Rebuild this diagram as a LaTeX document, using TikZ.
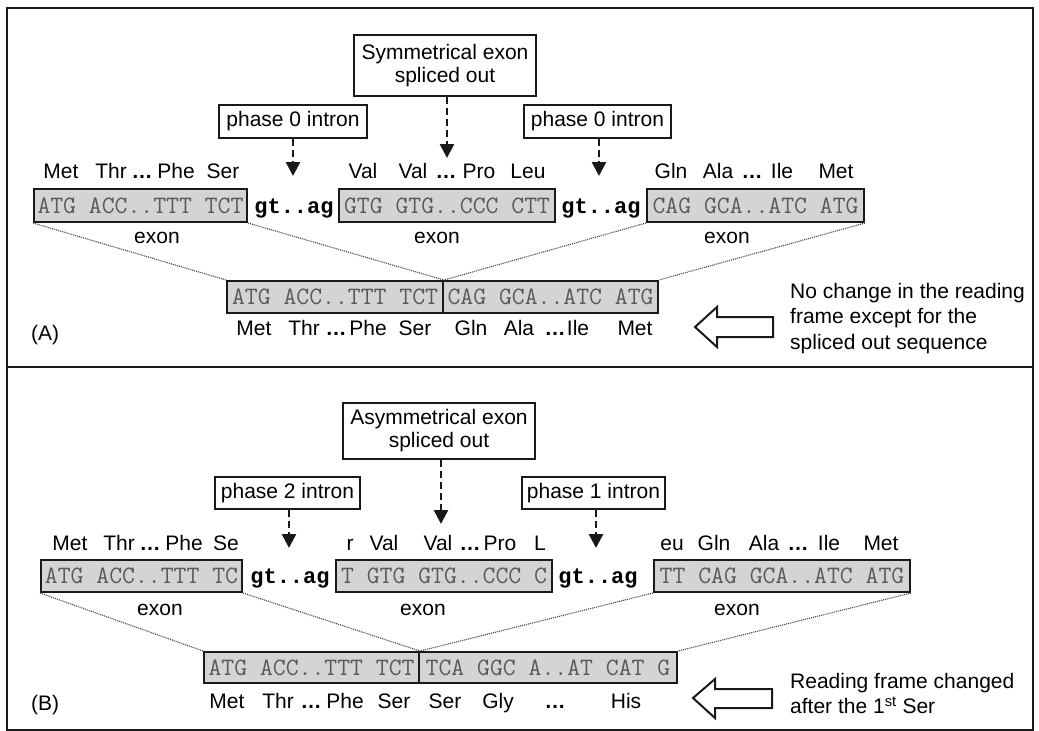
\documentclass[tikz,border=0pt]{standalone}
\usepackage{fontspec}
\setmainfont{Liberation Sans}
\newfontfamily\gtmono{Liberation Mono}
\usetikzlibrary{arrows.meta}
\begin{document}
\begin{tikzpicture}[x=1pt,y=-1pt,
  lbl/.style={font=\fontsize{21}{25}\selectfont, inner sep=0pt, anchor=base},
  seqbox/.style={draw=black!90, line width=2pt, fill=black!17, font=\fontsize{25}{28}\selectfont\ttfamily, text=black!65, inner sep=0pt, minimum height=33pt},
  gtag/.style={font=\fontsize{22}{26}\selectfont\gtmono\bfseries, inner sep=0pt, anchor=base},
  callout/.style={draw=black!90, line width=2pt, font=\fontsize{21}{25}\selectfont, inner sep=0pt, align=center},
  dasharrow/.style={draw=black!90, line width=2.6pt, dash pattern=on 7pt off 4pt, -{Triangle[length=14pt,width=14pt]}},
  dotline/.style={draw=black!75, line width=1.1pt, dash pattern=on 1pt off 1pt},
  hollow/.style={draw=black!90, line width=2pt, fill=white, line join=miter},
  note/.style={font=\fontsize{21}{25.5}\selectfont, inner sep=0pt, anchor=north west, align=left}
]
\useasboundingbox (0,0) rectangle (1039,731);
% frame
\draw[line width=2.2pt, black!90] (7,8) rectangle (1033,730);
\draw[line width=2.2pt, black!90] (7,367) -- (1033,367);

% ================= Panel A =================
\node[callout, minimum width=182pt, minimum height=61pt] (symA) at (445,65.5) {Symmetrical exon\\[-2pt]spliced out};
\node[callout, minimum width=148pt, minimum height=33pt] (p0L) at (293,121.5) {phase 0 intron};
\node[callout, minimum width=147pt, minimum height=33pt] (p0R) at (597.5,121.5) {phase 0 intron};
\coordinate (tA1) at (293,176);
\coordinate (tA2) at (447,158);
\coordinate (tA3) at (599,176);
\draw[dasharrow] (p0L.south) -- (tA1);
\draw[dasharrow] (symA.south -| tA2) -- (tA2);
\draw[dasharrow] (p0R.south -| tA3) -- (tA3);

\node[seqbox, minimum width=213pt] (eA1) at (140.5,205.5) {ATG ACC..TTT TCT};
\node[seqbox, minimum width=216pt] (eA2) at (447,205.5) {GTG GTG..CCC CTT};
\node[seqbox, minimum width=217pt] (eA3) at (755.5,205.5) {CAG GCA..ATC ATG};
\node[gtag] (gA1) at (294,213) {gt..ag};
\node[gtag] (gA2) at (601,213) {gt..ag};
\node[lbl] (xA1) at (157,243) {exon};
\node[lbl] (xA2) at (437,243) {exon};
\node[lbl] (xA3) at (727,243) {exon};

\node[seqbox, minimum width=216pt, minimum height=32pt] (cA1) at (335,297) {ATG ACC..TTT TCT};
\node[seqbox, minimum width=215pt, minimum height=32pt] (cA2) at (550.5,297) {CAG GCA..ATC ATG};

\draw[dotline] (eA1.south west) -- (cA1.north west);
\draw[dotline] (eA1.south east) -- (cA1.north east);
\draw[dotline] (eA3.south west) -- (cA1.north east);
\draw[dotline] (eA3.south east) -- (cA2.north east);

\foreach \w/\x [count=\i] in {Met/61, Thr/111, {\bfseries …}/142, Phe/176, Ser/223,
  Val/363, Val/413, {\bfseries …}/446, Pro/479, Leu/528,
  Gln/671, Ala/718, {\bfseries …}/752, Ile/782, Met/836}
  \node[lbl] (aat\i) at (\x,178) {\w};
\foreach \w/\x [count=\i] in {Met/254, Thr/304, {\bfseries …}/336, Phe/368, Ser/415,
  Gln/471, Ala/519, {\bfseries …}/555, Ile/578, Met/635}
  \node[lbl] (aab\i) at (\x,335) {\w};

\node[lbl, anchor=base west] (labA) at (31,340) {(A)};
\draw[hollow] (695,327) -- (717,307) -- (717,317) -- (773,317) -- (773,337) -- (717,337) -- (717,347) -- cycle;
\node[note] (noteA) at (790,283) {No change in the reading\\frame except for the\\spliced out sequence};

% ================= Panel B =================
\node[callout, minimum width=192pt, minimum height=56pt] (asyB) at (439,431) {Asymmetrical exon\\[-2pt]spliced out};
\node[callout, minimum width=145pt, minimum height=32pt] (p2) at (287.5,493) {phase 2 intron};
\node[callout, minimum width=143pt, minimum height=32pt] (p1) at (593.5,493) {phase 1 intron};
\coordinate (tB1) at (289,548);
\coordinate (tB2) at (441,524);
\coordinate (tB3) at (596,548);
\draw[dasharrow] (p2.south -| tB1) -- (tB1);
\draw[dasharrow] (asyB.south -| tB2) -- (tB2);
\draw[dasharrow] (p1.south -| tB3) -- (tB3);

\node[seqbox, minimum width=201pt, minimum height=32pt] (eB1) at (141.5,576) {ATG ACC..TTT TC};
\node[seqbox, minimum width=216pt, minimum height=32pt] (eB2) at (444,576) {T GTG GTG..CCC C};
\node[seqbox, minimum width=256pt, minimum height=32pt] (eB3) at (782,576) {TT CAG GCA..ATC ATG};
\node[gtag] (gB1) at (290,583) {gt..ag};
\node[gtag] (gB2) at (598,583) {gt..ag};
\node[lbl] (xB1) at (160,615) {exon};
\node[lbl] (xB2) at (423,615) {exon};
\node[lbl] (xB3) at (737,615) {exon};

\node[seqbox, minimum width=215pt, minimum height=31pt] (cB1) at (311.5,667.5) {ATG ACC..TTT TCT};
\node[seqbox, minimum width=258pt, minimum height=31pt] (cB2) at (548,667.5) {TCA GGC A..AT CAT G};

\draw[dotline] (eB1.south west) -- (cB1.north west);
\draw[dotline] (eB1.south east) -- (cB1.north east);
\draw[dotline] (eB3.south west) -- (cB1.north east);
\draw[dotline] (eB3.south east) -- (cB2.north east);

\foreach \w/\x [count=\i] in {Met/70, Thr/119, {\bfseries …}/150, Phe/184, Se/226,
  r/350, Val/384, Val/438, {\bfseries …}/470, Pro/500, L/540,
  eu/672, Gln/714, Ala/764, {\bfseries …}/798, Ile/829, Met/881}
  \node[lbl] (bbt\i) at (\x,550) {\w};
\foreach \w/\x [count=\i] in {Met/227, Thr/278, {\bfseries …}/311, Phe/345, Ser/394,
  Ser/445, Gly/498, {\bfseries …}/555, His/626}
  \node[lbl] (bbb\i) at (\x,708) {\w};

\node[lbl, anchor=base west] (labB) at (31,710) {(B)};
\draw[hollow] (693,698) -- (715,679) -- (715,689) -- (772,689) -- (772,708) -- (715,708) -- (715,718) -- cycle;
\node[note] (noteB) at (790,673) {Reading frame changed\\after the 1\textsuperscript{st} Ser};
\end{tikzpicture}
\end{document}
